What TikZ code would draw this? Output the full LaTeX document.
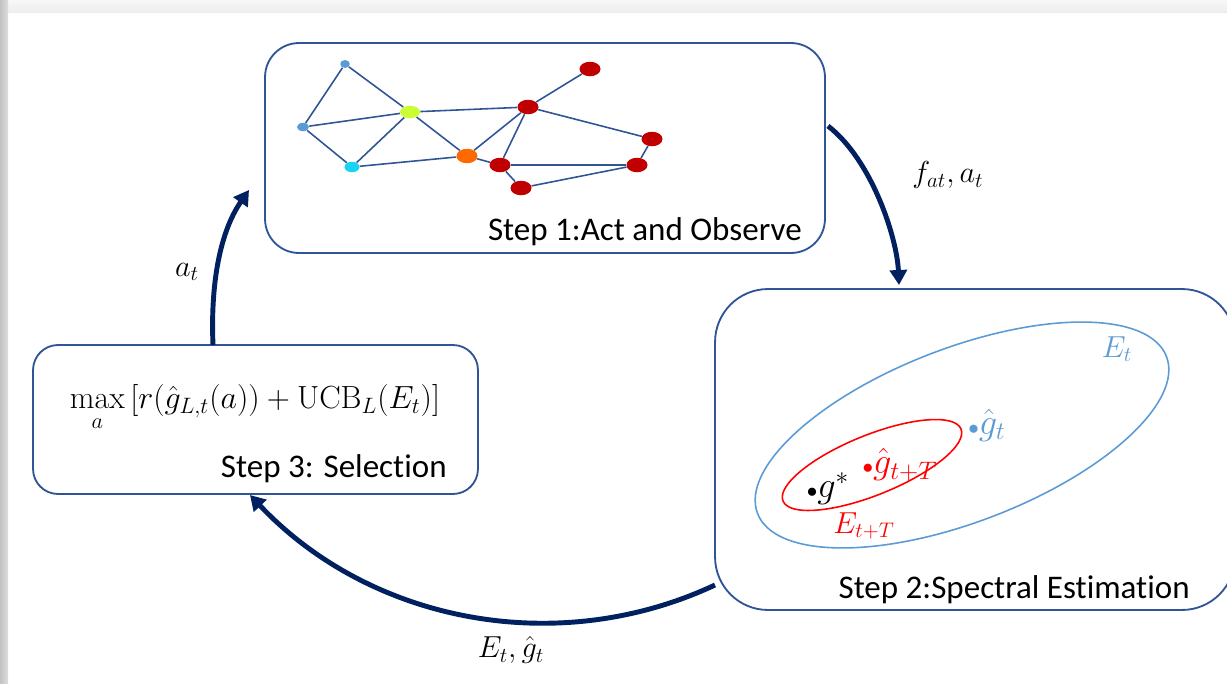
\documentclass[tikz,border=0pt]{standalone}
\usepackage{amsmath}
\usepackage{fontspec}
\newfontfamily\calibri{Carlito}[Ligatures=NoCommon]
\usetikzlibrary{arrows.meta,shapes.geometric}

\definecolor{navy}{HTML}{002060}
\definecolor{boxblue}{HTML}{2F5597}
\definecolor{softblue}{HTML}{5B9BD5}
\definecolor{nodered}{HTML}{C00000}
\definecolor{nodeorange}{HTML}{FF6A00}
\definecolor{nodelime}{HTML}{CCFF33}
\definecolor{nodecyan}{HTML}{19D3F2}

\tikzset{
  stepbox/.style={draw=boxblue,line width=1.05pt,inner sep=0pt},
  steptext/.style={font=\calibri\fontsize{18.8}{22}\selectfont,inner sep=0pt,anchor=base east},
  lbl/.style={font=\fontsize{17.28}{20}\selectfont,inner sep=0pt},
  biglbl/.style={font=\fontsize{20.74}{24}\selectfont,inner sep=0pt},
  gnode/.style={ellipse,inner sep=0pt},
  gedge/.style={draw=boxblue,line width=0.9pt},
  cyclearrow/.style={draw=navy,line width=2.8pt,-{Triangle[length=0.3cm,width=0.34cm]}}
}

\begin{document}
\begin{tikzpicture}[x=0.02cm,y=-0.02cm] % 1 unit = 1 pixel, y downwards
      \clip (0,0) rectangle (1227,683);

      % page shadow on top and left
      \shade[top color=gray!6,bottom color=gray!14] (0,0) rectangle (1227,12);
      \shade[left color=gray!48,right color=gray!26] (0,0) rectangle (8,683);

      % the three step boxes
      \node[stepbox,rounded corners=0.68cm,minimum width=11.2cm,minimum height=4.2cm] (act) at (545,148) {};
      \node[stepbox,rounded corners=1.06cm,minimum width=10.4cm,minimum height=6.42cm] (est) at (975,449.5) {};
      \node[stepbox,rounded corners=0.5cm,minimum width=8.9cm,minimum height=2.98cm] (sel) at (255.5,419.5) {};

      \node[steptext] (actlabel) at (802,240) {Step 1:Act and Observe};
      \node[steptext] (estlabel) at (1190,598) {Step 2:Spectral Estimation};
      \node[steptext] (sellabel) at (447,477) {Step 3: Selection};

      % Step 1: the observed graph
      \node[gnode,fill=softblue,minimum width=0.19cm,minimum height=0.16cm] (A) at (345,64) {};
      \node[gnode,fill=softblue,minimum width=0.24cm,minimum height=0.17cm] (B) at (303,127) {};
      \node[gnode,fill=nodecyan,minimum width=0.30cm,minimum height=0.21cm] (C) at (352,167) {};
      \node[gnode,fill=nodelime,minimum width=0.40cm,minimum height=0.25cm] (D) at (410,112) {};
      \node[gnode,fill=nodeorange,minimum width=0.42cm,minimum height=0.29cm] (E) at (467,156) {};
      \node[gnode,fill=nodered,minimum width=0.42cm,minimum height=0.29cm] (F) at (528,107) {};
      \node[gnode,fill=nodered,minimum width=0.42cm,minimum height=0.29cm] (G) at (590,69) {};
      \node[gnode,fill=nodered,minimum width=0.42cm,minimum height=0.29cm] (H) at (652,139) {};
      \node[gnode,fill=nodered,minimum width=0.42cm,minimum height=0.29cm] (I) at (637,165) {};
      \node[gnode,fill=nodered,minimum width=0.42cm,minimum height=0.29cm] (J) at (500,165) {};
      \node[gnode,fill=nodered,minimum width=0.42cm,minimum height=0.29cm] (K) at (521,188) {};

      \foreach \u/\v in {A/B,A/D,B/D,B/C,C/D,C/E,D/E,D/F,E/F,E/J,F/G,F/J,F/H,H/I,J/I,J/K,K/I}{
          \draw[gedge] (\u) -- (\v);
        }

      % Step 2: confidence ellipsoids
      \draw[softblue,line width=0.9pt,rotate around={21:(962,435)}] (962,435) ellipse [x radius=219,y radius=87];
      \draw[red,line width=0.9pt,rotate around={22:(872,465)}] (872,465) ellipse [x radius=96,y radius=30];

      \node[lbl,text=softblue] (Et) at (1117,349) {$E_t$};
      \node[biglbl,text=softblue] (gt) at (987,425) {${\scriptscriptstyle\bullet}\hat{g}_t$};
      \node[biglbl,text=red] (gtT) at (900,465) {${\scriptscriptstyle\bullet}\hat{g}_{t+T}$};
      \node[biglbl] (gstar) at (828,489) {${\scriptscriptstyle\bullet}g^*$};
      \node[lbl,text=red] (EtT) at (864,526) {$E_{t+T}$};

      % Step 3: selection rule
      \node[lbl,scale=1.055,transform shape] (rule) at (255,408)
        {$\displaystyle\max_a\,[r(\hat{g}_{L,t}(a))+\mathrm{UCB}_L(E_t)]$};

      % arrows of the loop
      \coordinate (actout) at (828,126);
      \coordinate (estin) at (899,285);
      \coordinate (estout) at (715,585);
      \coordinate (selin) at (250,495);
      \coordinate (selout) at (213,345);
      \coordinate (actin) at (249,190);

      \draw[cyclearrow] (actout) .. controls (872,160) and (897,238) .. (estin);
      \draw[cyclearrow] (estout) .. controls (557,659) and (370,622) .. (selin);
      \draw[cyclearrow] (selout) .. controls (210,272) and (224,226) .. (actin);

      \node[lbl] (fa) at (948,175) {$f_{at}, a_t$};
      \node[lbl] (eg) at (511,650) {$E_t, \hat{g}_t$};
      \node[lbl] (at) at (187,272) {$a_t$};
    \end{tikzpicture}
\end{document}
